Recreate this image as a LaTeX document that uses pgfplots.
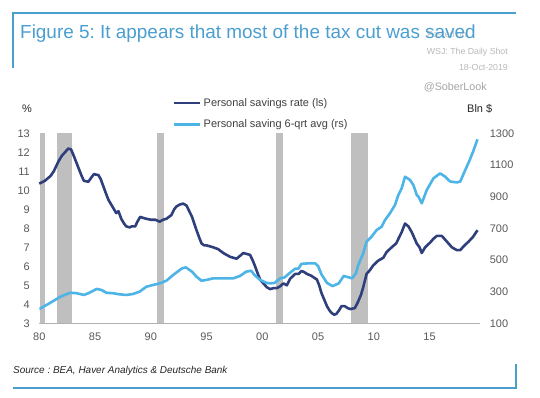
\documentclass[border=0pt]{standalone}
\usepackage{pgfplots}
\pgfplotsset{compat=1.18}
\usepackage{fontspec}
\setmainfont{Liberation Sans}
\frenchspacing
\definecolor{frameblue}{HTML}{4A9FCE}
\definecolor{titleblue}{HTML}{4A9FD0}
\definecolor{darkline}{HTML}{2E3F7C}
\definecolor{lightline}{HTML}{4CB4E6}
\definecolor{recgray}{HTML}{BFBFBF}
\definecolor{ticktext}{HTML}{595959}
\begin{document}
\begin{tikzpicture}
\useasboundingbox (0,0) rectangle (540bp,398bp);
\fill[white] (0,0) rectangle (540bp,398bp);
% frame
\draw[frameblue, line width=1.2bp] (13bp,330bp) -- (13bp,385bp) -- (516bp,385bp);
\draw[frameblue, line width=1.2bp] (13bp,10bp) -- (516bp,10bp) -- (516bp,34bp);
% texts
\node[anchor=base west, text=gray!50, font=\fontsize{8.8}{10}\selectfont, inner sep=0pt] at (427bp,360bp) {Posted on};
\node[anchor=base west, text=titleblue, font=\fontsize{19}{22}\selectfont, inner sep=0pt] at (20bp,359bp) {Figure 5: It appears that most of the tax cut was saved};
\node[anchor=base east, text=gray!55, font=\fontsize{8.8}{10}\selectfont, inner sep=0pt] at (508bp,343bp) {WSJ: The Daily Shot};
\node[anchor=base east, text=gray!55, font=\fontsize{8.8}{10}\selectfont, inner sep=0pt] at (508bp,327bp) {18-Oct-2019};
\node[anchor=base east, text=gray!70, font=\fontsize{10.8}{12}\selectfont, inner sep=0pt] at (487bp,307bp) {@SoberLook};
\node[anchor=base west, text=black!85, font=\fontsize{11}{12}\selectfont, inner sep=0pt] at (22bp,285bp) {\%};
\node[anchor=base west, text=black!85, font=\fontsize{11}{12}\selectfont, inner sep=0pt] at (467bp,285bp) {Bln \$};
\node[anchor=base west, text=black!85, font=\fontsize{10}{12}\itshape, inner sep=0pt] at (13bp,25bp) {Source : BEA, Haver Analytics \& Deutsche Bank};

\begin{axis}[
  at={(39.3bp,74.7bp)}, anchor=south west,
  scale only axis, width=441bp, height=190bp,
  xmin=1980, xmax=2019.55, ymin=3, ymax=13,
  axis y line*=left, axis x line*=bottom,
  y axis line style={draw=none},
  x axis line style={draw=gray!60, line width=0.6bp, -},
  xtick={1980,1985,...,2015},
  xticklabels={80,85,90,95,00,05,10,15},
  ytick={3,4,...,13},
  major tick length=0pt,
  tick label style={font=\fontsize{11}{13}\selectfont, text=ticktext},
  xticklabel style={yshift=-6bp},
  yticklabel style={xshift=-6bp},
  /pgf/number format/assume math mode=true,
  legend style={at={(0.303,1.195)}, anchor=north west, draw=none, fill=none,
    font=\fontsize{11}{13}\selectfont, text=black!75, row sep=8bp,
    inner sep=0pt, cells={anchor=west}},
  legend image code/.code={\draw[#1, line width=2.6bp] (0bp,0bp) -- (26bp,0bp);},
  clip=false,
]
\addplot[fill=recgray, draw=none, forget plot] coordinates {(1980.05,3)(1980.55,3)(1980.55,13)(1980.05,13)} -- cycle;
\addplot[fill=recgray, draw=none, forget plot] coordinates {(1981.6,3)(1982.9,3)(1982.9,13)(1981.6,13)} -- cycle;
\addplot[fill=recgray, draw=none, forget plot] coordinates {(1990.6,3)(1991.2,3)(1991.2,13)(1990.6,13)} -- cycle;
\addplot[fill=recgray, draw=none, forget plot] coordinates {(2001.2,3)(2001.9,3)(2001.9,13)(2001.2,13)} -- cycle;
\addplot[fill=recgray, draw=none, forget plot] coordinates {(2007.95,3)(2009.5,3)(2009.5,13)(2007.95,13)} -- cycle;
\addplot[darkline, line width=2.6bp, line join=round] table {
1980.0 10.35
1980.5 10.5
1981.0 10.75
1981.3 11.0
1981.7 11.5
1982.0 11.8
1982.3 12.0
1982.6 12.2
1982.85 12.15
1983.1 11.8
1983.5 11.2
1983.8 10.75
1984.0 10.5
1984.4 10.45
1984.7 10.7
1984.9 10.85
1985.3 10.8
1985.5 10.6
1985.75 10.2
1986.0 9.8
1986.2 9.5
1986.6 9.1
1986.9 8.8
1987.1 8.9
1987.35 8.5
1987.6 8.25
1987.8 8.1
1988.1 8.05
1988.3 8.1
1988.6 8.1
1988.8 8.35
1989.05 8.6
1989.3 8.55
1989.6 8.5
1990.0 8.45
1990.4 8.45
1990.8 8.35
1991.1 8.45
1991.4 8.5
1991.85 8.7
1992.1 9.0
1992.3 9.15
1992.6 9.25
1992.9 9.3
1993.2 9.2
1993.45 8.9
1993.7 8.6
1994.1 7.9
1994.35 7.5
1994.55 7.2
1994.8 7.1
1995.0 7.1
1995.3 7.05
1995.6 7.0
1996.05 6.9
1996.5 6.7
1997.1 6.5
1997.7 6.4
1998.0 6.55
1998.3 6.7
1998.6 6.65
1998.9 6.6
1999.15 6.3
1999.35 6.0
1999.6 5.6
1999.8 5.3
2000.1 5.1
2000.4 4.9
2000.7 4.8
2001.0 4.85
2001.3 4.85
2001.6 4.95
2001.9 5.1
2002.2 5.0
2002.5 5.35
2002.95 5.6
2003.25 5.6
2003.5 5.75
2003.75 5.7
2004.0 5.6
2004.4 5.5
2004.9 5.3
2005.1 5.0
2005.3 4.6
2005.55 4.25
2005.8 3.9
2006.0 3.7
2006.2 3.55
2006.45 3.45
2006.65 3.5
2006.9 3.7
2007.1 3.9
2007.4 3.9
2007.65 3.8
2007.9 3.75
2008.3 3.8
2008.6 4.15
2008.85 4.5
2009.05 4.9
2009.35 5.6
2009.65 5.8
2009.95 6.05
2010.4 6.3
2010.85 6.45
2011.15 6.75
2011.6 7.0
2012.0 7.2
2012.25 7.5
2012.5 7.8
2012.8 8.25
2013.1 8.1
2013.4 7.8
2013.85 7.2
2014.1 7.0
2014.3 6.7
2014.6 7.0
2015.05 7.25
2015.35 7.45
2015.65 7.6
2016.1 7.6
2016.55 7.3
2017.0 7.0
2017.45 6.85
2017.75 6.85
2018.05 7.05
2018.5 7.3
2018.9 7.55
2019.3 7.9
};
\addlegendentry{Personal savings rate (ls)}
\addlegendimage{lightline}
\addlegendentry{Personal saving 6-qrt avg (rs)}
\end{axis}

\begin{axis}[
  at={(39.3bp,74.7bp)}, anchor=south west,
  scale only axis, width=441bp, height=190bp,
  xmin=1980, xmax=2019.55, ymin=100, ymax=1300,
  axis y line*=right, axis x line=none,
  y axis line style={draw=none},
  ytick={100,300,...,1300},
  major tick length=0pt,
  tick label style={font=\fontsize{11}{13}\selectfont, text=ticktext},
  yticklabel style={xshift=6bp},
  /pgf/number format/assume math mode=true,
  /pgf/number format/1000 sep={},
]
\addplot[lightline, line width=2.6bp, line join=round] table {
1980.0 190
1980.9 226
1981.9 268
1982.75 293
1983.35 290
1984.0 279
1984.4 290
1985.15 317
1985.6 310
1986.0 293
1986.6 290
1987.2 283
1987.8 279
1988.4 285
1989.0 300
1989.6 331
1990.2 342
1990.8 352
1991.4 369
1992.0 405
1992.8 447
1993.15 453
1993.7 426
1994.1 394
1994.55 369
1995.0 374
1995.6 384
1996.2 384
1996.8 384
1997.4 384
1998.0 399
1998.55 426
1999.0 432
1999.3 405
1999.8 374
2000.4 355
2000.7 352
2001.1 355
2001.6 384
2002.0 390
2002.5 420
2002.95 445
2003.25 445
2003.5 475
2004.0 478
2004.75 478
2005.0 462
2005.3 410
2005.8 355
2006.3 335
2006.85 352
2007.3 399
2008.05 384
2008.4 416
2008.6 468
2009.05 542
2009.35 615
2009.8 647
2010.25 689
2010.7 710
2011.0 752
2011.45 795
2011.9 847
2012.2 910
2012.5 953
2012.8 1026
2013.25 1005
2013.55 973
2013.85 910
2014.0 900
2014.3 858
2014.75 942
2015.35 1016
2015.95 1047
2016.4 1026
2016.85 995
2017.45 990
2017.75 995
2018.2 1068
2018.6 1131
2018.9 1184
2019.3 1262
};
\end{axis}
\end{tikzpicture}
\end{document}
